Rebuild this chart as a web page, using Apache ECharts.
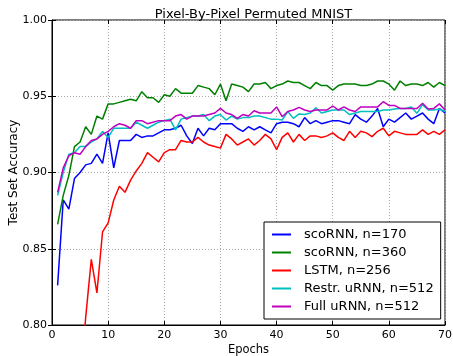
<!DOCTYPE html>
<html>
<head>
<meta charset="utf-8">
<script src="https://cdn.jsdelivr.net/npm/echarts@6/dist/echarts.min.js"></script>
<style>html,body{margin:0;padding:0;background:#fff}#c{width:453px;height:356px}</style>
</head>
<body>
<div id="c"></div>
<script>
var epochs = [];
for (var i = 1; i <= 70; i++) epochs.push(i);

var scoRNN170 = [0.826,0.882,0.876,0.896,0.900,0.905,0.906,0.912,0.906,0.926,
  0.903,0.921,0.921,0.921,0.925,0.923,0.924,0.924,0.926,0.928,
  0.928,0.929,0.931,0.924,0.919,0.929,0.924,0.929,0.928,0.932,
  0.932,0.932,0.929,0.927,0.930,0.928,0.930,0.928,0.926,0.932,
  0.933,0.933,0.932,0.930,0.936,0.932,0.934,0.932,0.933,0.934,
  0.934,0.933,0.932,0.938,0.935,0.933,0.937,0.942,0.930,0.935,
  0.933,0.936,0.939,0.935,0.937,0.939,0.935,0.932,0.942,0.939];

var scoRNN360 = [0.866,0.885,0.898,0.917,0.920,0.930,0.925,0.937,0.935,0.945,
  0.945,0.946,0.947,0.948,0.947,0.953,0.949,0.949,0.946,0.951,
  0.950,0.955,0.952,0.952,0.952,0.957,0.956,0.955,0.951,0.958,
  0.947,0.958,0.957,0.956,0.953,0.958,0.958,0.959,0.955,0.957,
  0.958,0.960,0.959,0.959,0.957,0.955,0.959,0.957,0.957,0.954,
  0.957,0.958,0.958,0.958,0.957,0.957,0.958,0.960,0.960,0.958,
  0.954,0.960,0.957,0.958,0.958,0.957,0.959,0.956,0.959,0.957];

var lstm256 = [null,null,null,null,0.760,0.805,0.843,0.821,0.861,0.867,
  0.882,0.891,0.887,0.895,0.901,0.906,0.913,0.910,0.907,0.913,
  0.915,0.915,0.921,0.920,0.920,0.923,0.920,0.918,0.917,0.916,
  0.925,0.922,0.918,0.920,0.922,0.918,0.921,0.925,0.922,0.915,
  0.923,0.926,0.920,0.925,0.921,0.924,0.924,0.923,0.924,0.926,
  0.923,0.921,0.927,0.923,0.927,0.926,0.9235,0.927,0.929,0.924,
  0.927,0.926,0.925,0.925,0.925,0.928,0.925,0.927,0.925,0.928];

var restrURNN = [0.885,0.900,0.912,0.913,0.917,0.917,0.920,0.922,0.927,0.923,
  0.929,0.929,0.929,0.929,0.933,0.931,0.929,0.931,0.933,0.934,
  0.935,0.928,0.935,0.936,0.937,0.937,0.938,0.934,0.937,0.938,
  0.9344,0.937,0.935,0.936,0.936,0.937,0.937,0.936,0.935,0.935,
  0.9344,0.940,0.9355,0.9384,0.938,0.939,0.9425,0.939,0.940,0.941,
  0.941,0.941,0.938,0.939,0.940,0.940,0.940,0.940,0.941,0.941,
  0.9417,0.942,0.942,0.943,0.9388,0.9445,0.941,0.941,0.9416,0.940];

var fullURNN = [0.887,0.903,0.911,0.913,0.912,0.917,0.921,0.922,0.925,0.927,
  0.930,0.932,0.931,0.929,0.934,0.934,0.932,0.933,0.934,0.934,
  0.934,0.937,0.938,0.935,0.937,0.937,0.937,0.938,0.939,0.942,
  0.939,0.938,0.9355,0.938,0.937,0.9405,0.939,0.939,0.939,0.943,
  0.9366,0.940,0.941,0.9427,0.941,0.940,0.941,0.941,0.941,0.9436,
  0.941,0.943,0.941,0.940,0.943,0.943,0.943,0.943,0.9464,0.944,
  0.944,0.942,0.942,0.942,0.942,0.9454,0.9416,0.942,0.945,0.941];

var seriesNames = ['scoRNN, n=170','scoRNN, n=360','LSTM, n=256','Restr. uRNN, n=512','Full uRNN, n=512'];
var seriesData = [scoRNN170, scoRNN360, lstm256, restrURNN, fullURNN];
var seriesColors = ['#0000ff','#008000','#ff0000','#00bfbf','#bf00bf'];

var xTicks = [0,10,20,30,40,50,60,70];
var yTicks = [0.80,0.85,0.90,0.95,1.00];

var FONT = 'DejaVu Sans';
var gridLine = {show:true, lineStyle:{color:'#a8a8a8', type:[1,2], width:1}};

var chart = echarts.init(document.getElementById('c'), null, {renderer:'canvas'});
chart.setOption({
  animation:false,
  backgroundColor:'#ffffff',
  title:{text:'Pixel-By-Pixel Permuted MNIST', left:248.5, textAlign:'center', top:3,
    textStyle:{fontFamily:FONT, fontSize:13, fontWeight:'normal', color:'#000'}},
  grid:{left:52, right:8, top:20, bottom:31, containLabel:false, outerBoundsMode:'none',
    show:true, borderColor:'#000', borderWidth:1, backgroundColor:'transparent'},
  legend:{
    orient:'vertical', left:264, top:222,
    data:seriesNames.map(function(n){return {name:n, icon:'rect'};}),
    itemWidth:19, itemHeight:2, itemGap:5,
    padding:[6,7,6,8],
    backgroundColor:'#fff', borderColor:'#000', borderWidth:1,
    textStyle:{fontFamily:FONT, fontSize:13, color:'#000', padding:[0,0,0,8], lineHeight:13}
  },
  xAxis:[{
    type:'value', min:xTicks[0], max:xTicks[xTicks.length-1], interval:10,
    name:'Epochs', nameLocation:'middle', nameGap:19, nameMoveOverlap:false,
    nameTextStyle:{fontFamily:FONT, fontSize:11.5, color:'#000'},
    axisLine:{show:true, lineStyle:{color:'#000'}},
    axisTick:{show:true, inside:true, length:4, lineStyle:{color:'#000'}},
    axisLabel:{fontFamily:FONT, fontSize:11, color:'#000', margin:5},
    splitLine:gridLine
  },{
    type:'value', position:'top', min:xTicks[0], max:xTicks[xTicks.length-1], interval:10,
    axisLine:{show:false}, axisTick:{show:true, inside:true, length:4, lineStyle:{color:'#000'}},
    axisLabel:{show:false}, splitLine:{show:false}
  }],
  yAxis:[{
    type:'value', min:yTicks[0], max:yTicks[yTicks.length-1], interval:0.05,
    name:'Test Set Accuracy', nameLocation:'middle', nameGap:32, nameMoveOverlap:false,
    nameTextStyle:{fontFamily:FONT, fontSize:12, color:'#000'},
    axisLine:{show:true, lineStyle:{color:'#000'}},
    axisTick:{show:true, inside:true, length:4, lineStyle:{color:'#000'}},
    axisLabel:{fontFamily:FONT, fontSize:11, color:'#000', margin:5, formatter:function(v){return v.toFixed(2);}},
    splitLine:gridLine
  },{
    type:'value', position:'right', min:yTicks[0], max:yTicks[yTicks.length-1], interval:0.05,
    axisLine:{show:false}, axisTick:{show:true, inside:true, length:4, lineStyle:{color:'#000'}},
    axisLabel:{show:false}, splitLine:{show:false}
  }],
  series:seriesNames.map(function(n, k){
    return {
      name:n, type:'line', xAxisIndex:0, yAxisIndex:0,
      data:epochs.map(function(e, i){return [e, seriesData[k][i]];}),
      showSymbol:false, symbol:'none', connectNulls:false, clip:true,
      lineStyle:{color:seriesColors[k], width:1.5},
      itemStyle:{color:seriesColors[k]}
    };
  })
});
</script>
</body>
</html>
